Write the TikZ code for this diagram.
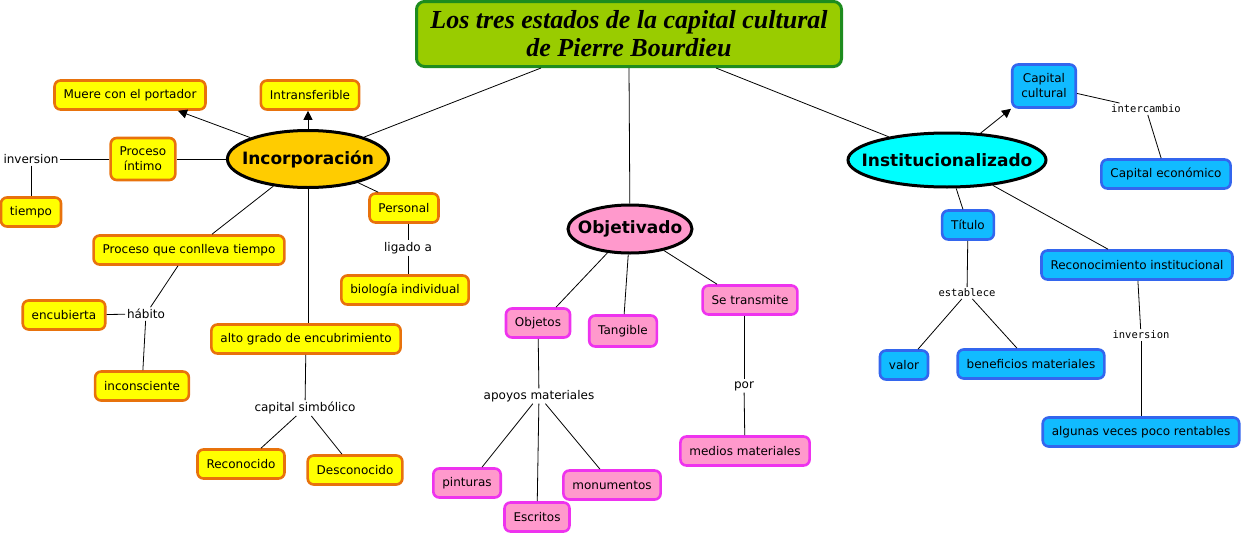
\documentclass[tikz,border=0pt]{standalone}
\usepackage{fontspec}
\setmainfont{DejaVu Sans}
\newfontfamily\titlefont{Liberation Serif}
\newfontfamily\monofont{DejaVu Sans Mono}
\usetikzlibrary{arrows.meta,shapes.geometric}
\definecolor{titlefill}{HTML}{99CC00}
\definecolor{titleline}{HTML}{1E8C1E}
\definecolor{yelfill}{HTML}{FFFF00}
\definecolor{yelline}{HTML}{E8720C}
\definecolor{goldfill}{HTML}{FFCC00}
\definecolor{pinkfill}{HTML}{FF99CC}
\definecolor{pinkline}{HTML}{EE33EE}
\definecolor{bluefill}{HTML}{11BBFF}
\definecolor{blueline}{HTML}{3366EE}
\definecolor{cyanfill}{HTML}{00FFFF}
\tikzset{
  box/.style={rounded corners=6pt,line width=2.6pt,minimum height=29pt,inner xsep=9pt,
    align=center,font=\fontsize{12}{15}\selectfont},
  yelbox/.style={box,fill=yelfill,draw=yelline},
  pinkbox/.style={box,fill=pinkfill,draw=pinkline},
  bluebox/.style={box,fill=bluefill,draw=blueline},
  concept/.style={ellipse,draw=black,line width=3pt,inner ysep=0pt,inner xsep=-9pt,font=\fontsize{17}{19}\selectfont\bfseries},
  linklab/.style={fill=white,inner sep=1.5pt,font=\fontsize{12}{14}\selectfont},
  monolab/.style={fill=white,inner sep=1.5pt,font=\fontsize{10.5}{12}\selectfont\monofont},
  tip/.style={-{Triangle[length=9pt,width=9pt]}}
}
\begin{document}
\begin{tikzpicture}[x=1pt,y=-1pt,line width=0.8pt]
\useasboundingbox (0,0) rectangle (1243,533);
% title
\node[rounded corners=8pt,line width=3pt,fill=titlefill,draw=titleline,minimum width=425pt,minimum height=65pt,align=center,
  font=\fontsize{26}{28}\selectfont\titlefont\bfseries\itshape] (title) at (629,34)
  {Los tres estados de la capital cultural\\de Pierre Bourdieu};
% three states
\node[concept,fill=goldfill,minimum width=158pt,minimum height=57pt] (inc) at (308,159) {Incorporación};
\node[concept,fill=pinkfill,minimum width=124pt,minimum height=48pt] (obj) at (630,229) {Objetivado};
\node[concept,fill=cyanfill,minimum width=198pt,minimum height=54pt,inner xsep=-16pt] (inst) at (947,160) {Institucionalizado};
%
\draw ([xshift=-88pt]title.south) -- (inc);
\draw (title.south) -- (obj);
\draw ([xshift=87pt]title.south) -- (inst);
% Incorporacion
\node[yelbox] (muere) at (130,95) {Muere con el portador};
\node[yelbox] (intr) at (310,95) {Intransferible};
\node[yelbox,minimum height=42pt] (intimo) at (143,159) {Proceso\\íntimo};
\node[linklab] (inv) at (31,159) {inversion};
\node[yelbox] (tiempo) at (31,212) {tiempo};
\node[yelbox] (pers) at (404,208) {Personal};
\node[linklab] (lig) at (408,248) {ligado a};
\node[yelbox] (bio) at (405,290) {biología individual};
\node[yelbox] (pclt) at (189,250) {Proceso que conlleva tiempo};
\node[linklab] (hab) at (146,314) {hábito};
\node[yelbox] (encub) at (64,315) {encubierta};
\node[yelbox] (incon) at (142,386) {inconsciente};
\node[yelbox] (alto) at (306,339) {alto grado de encubrimiento};
\node[linklab] (csim) at (305,408) {capital simbólico};
\node[yelbox] (reco) at (241,464) {Reconocido};
\node[yelbox] (desc) at (355,470) {Desconocido};
%
\draw[tip] (inc) -- ([xshift=48pt]muere.south);
\draw[tip] (inc.north) -- (inc.north |- intr.south);
\draw (inc) -- (intimo);
\draw (intimo) -- (inv);
\draw (inv) -- (tiempo);
\draw (inc) -- ([xshift=10pt]pers.north west);
\draw (pers.south -| lig) -- (lig);
\draw (lig) -- (lig |- bio.north);
\draw (inc) -- ([xshift=23pt]pclt.north);
\draw ([xshift=-11pt]pclt.south) -- (hab);
\draw (hab) -- (encub);
\draw (hab) -- (incon);
\draw (inc.south) -- (inc.south |- alto.north);
\draw (alto) -- (csim);
\draw (csim) -- ([xshift=20pt]reco.north);
\draw (csim) -- ([xshift=-13pt]desc.north);
% Objetivado
\node[pinkbox] (objs) at (538,323) {Objetos};
\node[pinkbox,minimum height=31pt] (tang) at (623,331) {Tangible};
\node[pinkbox] (setr) at (750,300) {Se transmite};
\node[linklab] (apoy) at (539,396) {apoyos materiales};
\node[pinkbox] (pintu) at (467,483) {pinturas};
\node[pinkbox] (escr) at (537,517) {Escritos};
\node[pinkbox] (monu) at (612,485) {monumentos};
\node[linklab] (por) at (744,386) {por};
\node[pinkbox] (medios) at (745,451) {medios materiales};
%
\draw (obj) -- ([xshift=18pt]objs.north);
\draw (obj) -- (tang);
\draw (obj) -- ([xshift=-33pt]setr.north);
\draw (objs) -- (apoy);
\draw (apoy) -- ([xshift=15pt]pintu.north);
\draw (apoy) -- (escr);
\draw (apoy) -- ([xshift=-12pt]monu.north);
\draw (setr.south -| por) -- (por);
\draw (por) -- (medios);
% Institucionalizado
\node[bluebox,minimum height=43pt] (ccul) at (1044,86) {Capital\\cultural};
\node[monolab] (inter) at (1146,109) {intercambio};
\node[bluebox] (ceco) at (1166,174) {Capital económico};
\node[bluebox] (tit) at (968,225) {Título};
\node[monolab] (est) at (967,293) {establece};
\node[bluebox] (valor) at (904,365) {valor};
\node[bluebox] (benef) at (1031,364) {beneficios materiales};
\node[bluebox] (recins) at (1137,265) {Reconocimiento institucional};
\node[monolab] (inv2) at (1141,335) {inversion};
\node[bluebox] (algun) at (1141,432) {algunas veces poco rentables};
%
\draw[tip] (inst) -- (ccul.south west);
\draw (ccul) -- (inter);
\draw (inter) -- (ceco);
\draw (inst) -- (tit);
\draw (inst) -- ([xshift=-29pt]recins.north);
\draw (tit) -- (est);
\draw (est) -- ([xshift=14pt]valor.north);
\draw (est) -- ([xshift=-14pt]benef.north);
\draw (recins) -- (inv2);
\draw (inv2) -- (algun);
\end{tikzpicture}
\end{document}
